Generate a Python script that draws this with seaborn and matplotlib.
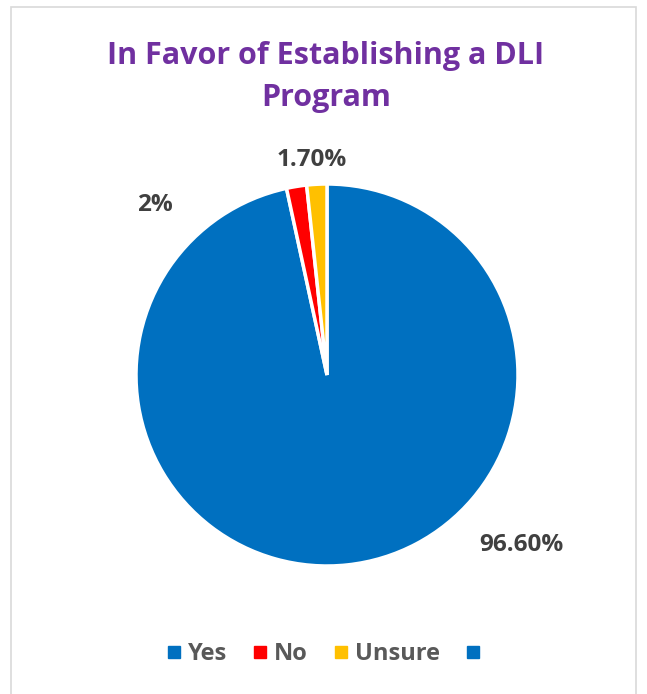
import matplotlib
matplotlib.use("Agg")
import matplotlib.pyplot as plt
from matplotlib.lines import Line2D
from matplotlib.patches import Rectangle
import seaborn as sns

# Survey responses
categories = ["Yes", "No", "Unsure"]
shares = [96.6, 1.7, 1.7]
value_labels = ["96.60%", "2%", "1.70%"]
legend_labels = ["Yes", "No", "Unsure", ""]

sns.set_theme(style="white")
plt.rcParams["font.family"] = ["Open Sans", "DejaVu Sans"]

colors = ["#0070C0", "#FF0000", "#FFC000"]
legend_colors = ["#0070C0", "#FF0000", "#FFC000", "#0070C0"]

W, H = 647, 694
fig = plt.figure(figsize=(W / 100, H / 100), dpi=100)
fig.patch.set_facecolor("white")

# light chart-area frame
fig.patches.append(Rectangle((11 / W, -0.05), (636 - 11) / W, 1.05 - 7 / H,
                             transform=fig.transFigure, fill=False,
                             edgecolor="#D9D9D9", linewidth=1.2))

# square axes centred on the pie
cx, cy, r, half = 327, H - 375, 191, 300
ax = fig.add_axes([(cx - half) / W, (cy - half) / H, 2 * half / W, 2 * half / H])

ax.pie(shares, colors=colors, startangle=90, counterclock=False,
       radius=1.0, wedgeprops=dict(edgecolor="white", linewidth=2.5))

lim = half / r
ax.set_xlim(-lim, lim)
ax.set_ylim(-lim, lim)
ax.set_aspect("equal")
ax.axis("off")

# data label placement (pie radius units)
label_pos = {"Yes": (1.016, -0.89), "No": (-0.90, 0.89), "Unsure": (-0.08, 1.126)}
for cat, txt in zip(categories, value_labels):
    x, y = label_pos[cat]
    ax.text(x, y, txt, ha="center", va="center", fontsize=17.5,
            fontweight="bold", color="#404040")

fig.text(326 / W, 1 - 77 / H, "In Favor of Establishing a DLI\nProgram",
         ha="center", va="center", fontsize=22, fontweight="bold",
         color="#7030A0", linespacing=1.55)

handles = [Line2D([0], [0], marker="s", linestyle="none", markersize=8.5,
                  markerfacecolor=c, markeredgecolor=c) for c in legend_colors]
leg = fig.legend(handles, legend_labels, loc="center", ncol=4,
                 bbox_to_anchor=(327 / W, 1 - 654 / H), frameon=False,
                 handletextpad=0.3, columnspacing=1.1, handlelength=0.6,
                 prop=dict(size=17, weight="bold"))
for t in leg.get_texts():
    t.set_color("#595959")

fig.savefig("out.png", dpi=100, facecolor="white")
